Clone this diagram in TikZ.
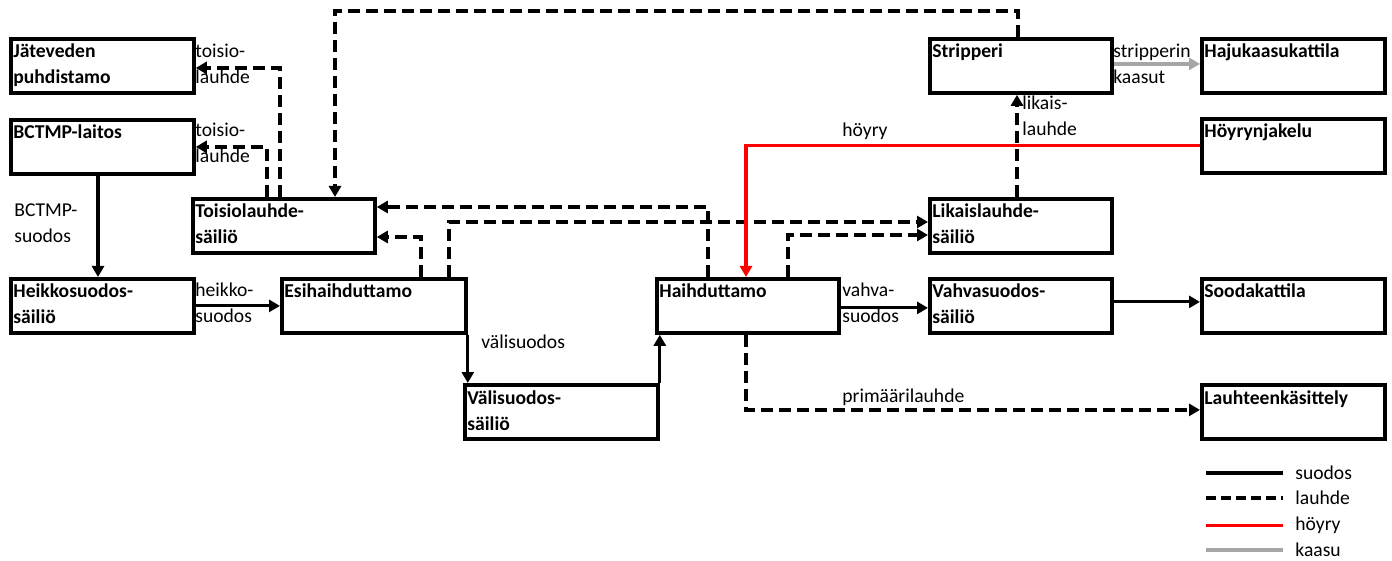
\documentclass[tikz,border=0pt]{standalone}
\usepackage{fontspec}
\setmainfont{Carlito}
\usetikzlibrary{arrows.meta,calc}
\definecolor{steam}{RGB}{255,0,0}
\definecolor{gas}{RGB}{166,166,166}

\tikzset{
  box/.style={draw, line width=1.9pt, inner sep=0pt, anchor=north west,
    minimum height=27pt, minimum width=91.5pt},
  boxtext/.style={anchor=base west, inner sep=0pt,
    font=\fontsize{9.8}{13}\selectfont\bfseries},
  flowlabel/.style={anchor=base west, inner sep=0pt,
    font=\fontsize{9.8}{13}\selectfont},
  legendtext/.style={anchor=mid west, inner sep=0pt,
    font=\fontsize{9.8}{13}\selectfont},
  tip/.style={-{Triangle[length=5.5pt,width=6pt]}},
  suodos/.style={line width=1.6pt, tip},
  lauhde/.style={line width=1.7pt, tip, dash pattern=on 6pt off 3pt},
  hoyry/.style={line width=1.6pt, draw=steam, -{Triangle[length=5.5pt,width=6pt,fill=steam]}},
  kaasu/.style={line width=1.8pt, draw=gas, -{Triangle[length=5.5pt,width=6pt,fill=gas]}},
}

% stacked lines whose baseline is that of the first line
\newcommand{\stack}[1]{\begin{tabular}[t]{@{}l@{}}#1\end{tabular}}

% process box: name, top-left corner (px), width (px), label
\newcommand{\procbox}[5]{%
  \node[box, minimum width=#4*0.5pt] (#1) at (#2,#3) {};
  \node[boxtext] (#1-t) at ($(#1.north west)+(4,21)$) {\stack{#5}};
}

\begin{document}
\begin{tikzpicture}[x=0.5pt, y=-0.5pt]
  \fill[white] (0,0) rectangle (1392,561);
  \useasboundingbox (0,0) rectangle (1392,561);

  % boxes
  \procbox{jat}{9}{37}{183}{Jäteveden\\puhdistamo}
  \procbox{bct}{9}{118}{183}{BCTMP-laitos}
  \procbox{hei}{9}{277}{183}{Heikkosuodos-\\säiliö}
  \procbox{toi}{191}{197}{182}{Toisiolauhde-\\säiliö}
  \procbox{esi}{280}{277}{184}{Esihaihduttamo}
  \procbox{val}{463}{383}{193}{Välisuodos-\\säiliö}
  \procbox{hai}{655}{277}{182}{Haihduttamo}
  \procbox{str}{928}{37}{182}{Stripperi}
  \procbox{lik}{928}{197}{182}{Likaislauhde-\\säiliö}
  \procbox{vah}{928}{277}{182}{Vahvasuodos-\\säiliö}
  \procbox{haj}{1200}{37}{183}{Hajukaasukattila}
  \procbox{hoy}{1200}{117}{183}{Höyrynjakelu}
  \procbox{soo}{1200}{277}{183}{Soodakattila}
  \procbox{lau}{1200}{383}{183}{Lauhteenkäsittely}

  % liquor (suodos) flows
  \draw[suodos] ($(bct.south west)+(89,0)$) -- ($(hei.north west)+(89,0)$);
  \draw[suodos] (hei.east) -- (esi.west);
  \draw[suodos] (esi.south east) -- (esi.south east |- val.north);
  \draw[suodos] (val.north east) -- (val.north east |- hai.south);
  \draw[suodos] ($(hai.east)+(0,2)$) -- ($(vah.west)+(0,2)$);
  \draw[suodos] ($(vah.east)+(0,-4)$) -- ($(soo.west)+(0,-4)$);

  % condensate (lauhde) flows
  \draw[lauhde] ($(toi.north west)+(89,0)$) |- ($(jat.east)+(0,2)$);
  \draw[lauhde] ($(toi.north west)+(76,0)$) |- (bct.east);
  \draw[lauhde] ($(str.north west)+(90,0)$) -- ++(0,-26) -| ($(toi.north west)+(144,0)$);
  \draw[lauhde] ($(hai.north west)+(53,0)$) |- ($(toi.north east)+(0,10)$);
  \draw[lauhde] ($(esi.north west)+(141,0)$) |- ($(toi.north east)+(0,40)$);
  \draw[lauhde] ($(esi.north west)+(169,0)$) |- ($(lik.north west)+(0,25)$);
  \draw[lauhde] ($(hai.north west)+(133,0)$) |- ($(lik.north west)+(0,38)$);
  \draw[lauhde] ($(lik.north west)+(89,0)$) -- ($(str.south west)+(89,0)$);
  \draw[lauhde] ($(hai.south west)+(91,0)$) |- ($(lau.west)+(0,-2)$);

  % steam and gas
  \draw[hoyry] (hoy.west) -| ($(hai.north west)+(91,0)$);
  \draw[kaasu] ($(str.east)+(0,-2)$) -- ($(haj.west)+(0,-2)$);

  % flow labels
  \node[flowlabel] (l-toi1) at (195,58) {\stack{toisio-\\lauhde}};
  \node[flowlabel] (l-toi2) at (195,137) {\stack{toisio-\\lauhde}};
  \node[flowlabel] (l-bct) at (14,217) {\stack{BCTMP-\\suodos}};
  \node[flowlabel] (l-hei) at (195,297) {\stack{heikko-\\suodos}};
  \node[flowlabel] (l-val) at (481,348) {välisuodos};
  \node[flowlabel] (l-vah) at (842,297) {\stack{vahva-\\suodos}};
  \node[flowlabel] (l-lik) at (1022,110) {\stack{likais-\\lauhde}};
  \node[flowlabel] (l-str) at (1113,58) {\stack{stripperin\\kaasut}};
  \node[flowlabel] (l-hoy) at (842,137) {höyry};
  \node[flowlabel] (l-pri) at (842,402) {primäärilauhde};

  % legend
  \node[legendtext] (lg1) at (1295,475) {suodos};
  \node[legendtext] (lg2) at (1295,500) {lauhde};
  \node[legendtext] (lg3) at (1295,526) {höyry};
  \node[legendtext] (lg4) at (1295,552) {kaasu};
  \draw[line width=1.6pt] ($(lg1.west)+(-89,0)$) -- ($(lg1.west)+(-12,0)$);
  \draw[line width=1.6pt, dash pattern=on 5pt off 2.5pt] ($(lg2.west)+(-89,0)$) -- ($(lg2.west)+(-12,0)$);
  \draw[line width=1.7pt, steam] ($(lg3.west)+(-89,0)$) -- ($(lg3.west)+(-12,0)$);
  \draw[line width=2pt, gas] ($(lg4.west)+(-89,0)$) -- ($(lg4.west)+(-12,0)$);
\end{tikzpicture}
\end{document}
